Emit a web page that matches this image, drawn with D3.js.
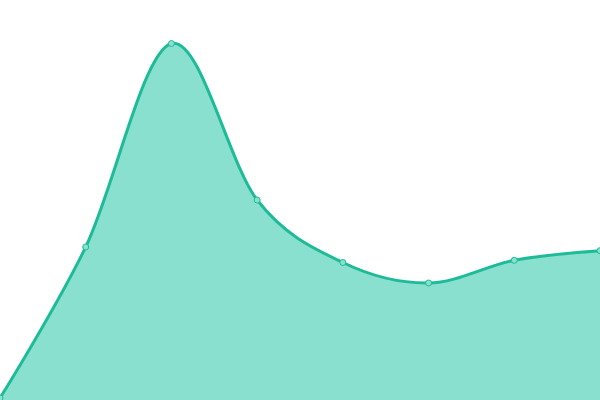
<!DOCTYPE html>
<html><head><meta charset="utf-8">
<script src="https://cdn.jsdelivr.net/npm/d3@7"></script>
<style>html,body{margin:0;padding:0;background:#fff;}svg{display:block;}</style>
</head><body>
<svg id="c" width="600" height="400"></svg>
<script>
const categories = ["A","B","C","D","E","F","G","H"];
const values = [2, 153, 356.5, 200, 137.5, 117, 139.7, 149.3];

const W = 600, H = 400;
const svg = d3.select("#c");
const x = d3.scalePoint().domain(categories).range([0, W]);
const y = d3.scaleLinear().domain([0, 400]).range([H, 0]);
const data = categories.map((c, i) => ({c, v: values[i]}));

const curve = d3.curveCardinal.tension(0);
svg.append("path").datum(data)
  .attr("d", d3.area().x(d => x(d.c)).y0(y(0)).y1(d => y(d.v)).curve(curve))
  .attr("fill", "#8ae0cf");
svg.append("path").datum(data)
  .attr("d", d3.line().x(d => x(d.c)).y(d => y(d.v)).curve(curve))
  .attr("fill", "none").attr("stroke", "#1dbb98").attr("stroke-width", 3);
svg.selectAll("circle").data(data).enter().append("circle")
  .attr("cx", d => x(d.c)).attr("cy", d => y(d.v)).attr("r", 3)
  .attr("fill", "#8ae0cf").attr("stroke", "#1dbb98").attr("stroke-width", 1);
</script>
</body></html>
